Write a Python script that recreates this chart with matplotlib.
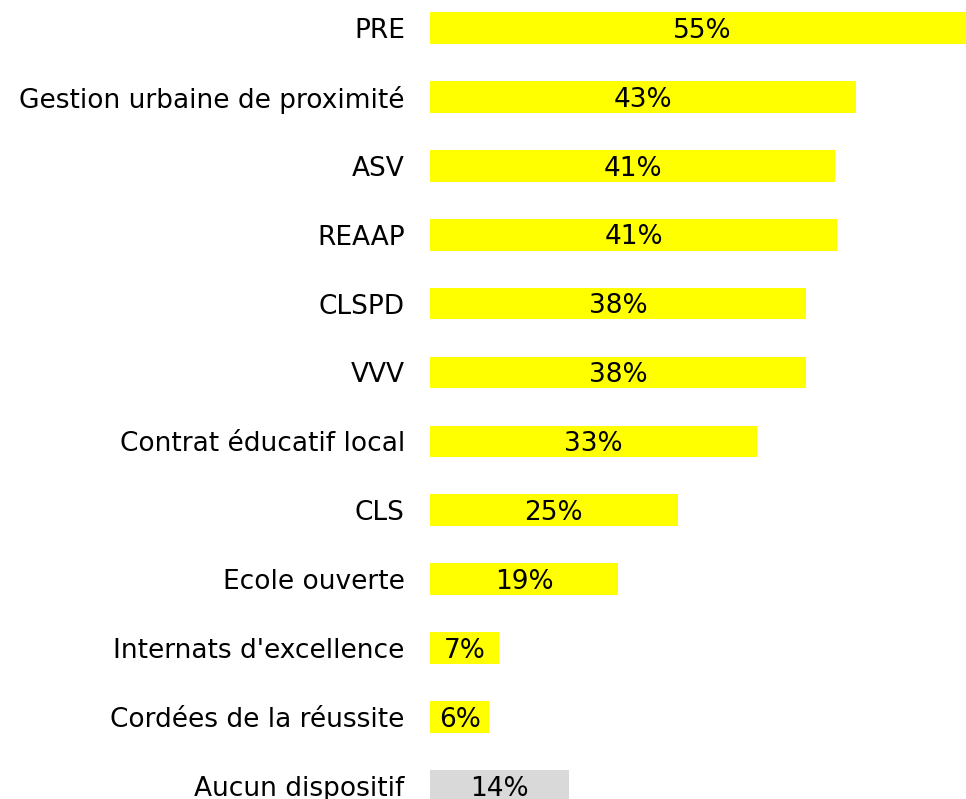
import matplotlib.pyplot as plt

categories = ["PRE", "Gestion urbaine de proximité", "ASV", "REAAP", "CLSPD", "VVV",
              "Contrat éducatif local", "CLS", "Ecole ouverte",
              "Internats d'excellence", "Cordées de la réussite", "Aucun dispositif"]
values = [55, 43, 40.9, 41.1, 38, 38, 33, 25, 19, 7, 6, 14]
labels = ["55%", "43%", "41%", "41%", "38%", "38%", "33%", "25%", "19%", "7%", "6%", "14%"]
colors = ["#ffff00"] * 11 + ["#d9d9d9"]

fig = plt.figure(figsize=(9.66, 7.99), dpi=100)
ax = fig.add_axes([0.445, 0, 0.555, 1])

pos = list(range(len(categories)))
ax.barh(pos, values, height=0.46, color=colors)
for p, v, lab in zip(pos, values, labels):
    ax.text(v / 2, p + 0.04, lab, ha="center", va="center", fontsize=19, color="black")

ax.set_xlim(0, 54.1)
ax.set_ylim(11.19, -0.406)
ax.set_yticks(pos)
ax.set_yticklabels(categories, fontsize=19)
ax.tick_params(axis="y", length=0, pad=18)
ax.set_xticks([])
for s in ax.spines.values():
    s.set_visible(False)

fig.savefig("out.png", dpi=100)
